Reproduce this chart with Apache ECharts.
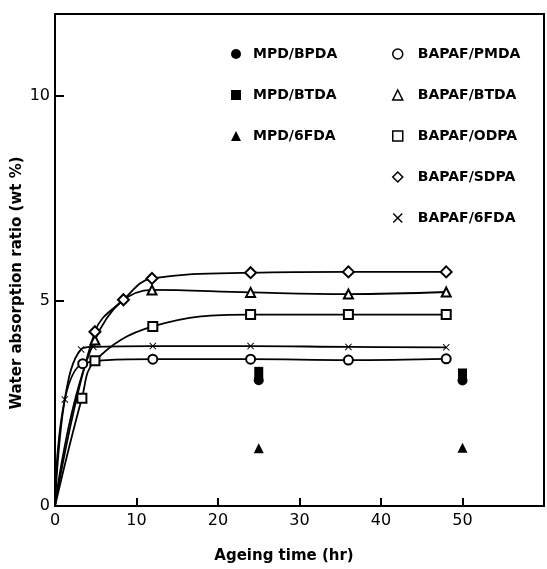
<!DOCTYPE html>
<html>
<head>
<meta charset="utf-8">
<script src="https://cdn.jsdelivr.net/npm/echarts@6/dist/echarts.min.js"></script>
<style>
  html, body { margin: 0; padding: 0; background: #fff; }
  #main { width: 547px; height: 569px; }
</style>
</head>
<body>
<div id="main"></div>
<script>
// BAPAF series (curves start at the origin)
const pmdaX = [0, 3.4, 12, 24, 36, 48]
const pmdaY = [0, 3.47, 3.58, 3.58, 3.56, 3.59]
const btdaX = [0, 4.9, 11.9, 24, 36, 48]
const btdaY = [0, 4.05, 5.27, 5.21, 5.17, 5.22]
const odpaX = [0, 3.3, 4.9, 12, 24, 36, 48]
const odpaY = [0, 2.63, 3.54, 4.38, 4.67, 4.67, 4.67]
const sdpaX = [0, 4.9, 8.4, 11.9, 24, 36, 48]
const sdpaY = [0, 4.25, 5.03, 5.55, 5.69, 5.71, 5.71]
const fdaX = [0, 1.2, 3.2, 4.7, 12, 24, 36, 48]
const fdaY = [0, 2.6, 3.82, 3.88, 3.9, 3.9, 3.88, 3.87]

// MPD series (single points)
const mpdX = [25, 50]
const mpdBpdaY = [3.07, 3.06]
const mpdBtdaY = [3.26, 3.22]
const mpd6fdaY = [1.41, 1.42]

const xTicks = [0, 10, 20, 30, 40, 50]
const yTicks = [0, 5, 10]

const FONT = 'DejaVu Sans'
const crossPath = 'path://M0,1L1,0L5,4L9,0L10,1L6,5L10,9L9,10L5,6L1,10L0,9L4,5Z'

function curve(xs, ys) {
  return xs.map(function (x, i) {
    if (i === 0) return { value: [x, ys[i]], symbol: 'none' }
    return [x, ys[i]]
  })
}
function points(xs, ys) {
  return xs.map(function (x, i) { return [x, ys[i]] })
}

const chart = echarts.init(document.getElementById('main'))

const lineBase = {
  type: 'line',
  smooth: 0.4,
  lineStyle: { color: '#000', width: 1.8 },
  itemStyle: { color: '#000', borderWidth: 1.6 },
  z: 2,
}

const option = {
  backgroundColor: '#fff',
  animation: false,
  grid: {
    left: 55,
    top: 14,
    width: 494,
    bottom: 63,
    show: true,
    borderColor: '#000',
    borderWidth: 2,
    backgroundColor: 'transparent',
  },
  xAxis: {
    type: 'value',
    min: 0,
    max: 60,
    interval: 10,
    axisLine: { lineStyle: { color: '#000', width: 2 } },
    axisTick: { inside: true, length: 8, lineStyle: { color: '#000', width: 2 } },
    splitLine: { show: false },
    axisLabel: {
      color: '#000',
      fontFamily: FONT,
      fontSize: 16,
      margin: 7,
      formatter: function (v) { return xTicks.indexOf(v) >= 0 ? String(v) : '' },
    },
  },
  yAxis: {
    type: 'value',
    min: 0,
    max: 12,
    interval: 5,
    axisLine: { lineStyle: { color: '#000', width: 2 } },
    axisTick: { inside: true, length: 9, lineStyle: { color: '#000', width: 2 } },
    splitLine: { show: false },
    axisLabel: {
      color: '#000',
      fontFamily: FONT,
      fontSize: 16,
      margin: 5,
      formatter: function (v) { return yTicks.indexOf(v) >= 0 ? String(v) : '' },
    },
  },
  legend: [
    {
      orient: 'vertical',
      left: 226,
      top: 42,
      itemGap: 27,
      itemWidth: 10,
      itemHeight: 10,
      selectedMode: false,
      textStyle: { color: '#000', fontFamily: FONT, fontWeight: 'bold', fontSize: 14, padding: [0, 0, 0, 7] },
      data: [
        { name: 'MPD/BPDA', icon: 'circle', itemStyle: { color: '#000', opacity: 1 } },
        { name: 'MPD/BTDA', icon: 'rect', itemStyle: { color: '#000', opacity: 1 } },
        { name: 'MPD/6FDA', icon: 'triangle', itemStyle: { color: '#000', opacity: 1 } },
      ],
    },
    {
      orient: 'vertical',
      left: 387,
      top: 42,
      itemGap: 27,
      itemWidth: 10,
      itemHeight: 10,
      selectedMode: false,
      textStyle: { color: '#000', fontFamily: FONT, fontWeight: 'bold', fontSize: 14, padding: [0, 0, 0, 10] },
      data: [
        { name: 'BAPAF/PMDA', icon: 'circle', itemStyle: { color: '#fff', borderColor: '#000', borderWidth: 1.5 } },
        { name: 'BAPAF/BTDA', icon: 'triangle', itemStyle: { color: '#fff', borderColor: '#000', borderWidth: 1.5 } },
        { name: 'BAPAF/ODPA', icon: 'rect', itemStyle: { color: '#fff', borderColor: '#000', borderWidth: 1.5 } },
        { name: 'BAPAF/SDPA', icon: 'diamond', itemStyle: { color: '#fff', borderColor: '#000', borderWidth: 1.5 } },
        { name: 'BAPAF/6FDA', icon: crossPath, itemStyle: { color: '#000', borderWidth: 0 }, itemWidth: 8, itemHeight: 8 },
      ],
    },
  ],
  graphic: [
    {
      type: 'text',
      x: 284,
      y: 556,
      style: { text: 'Ageing time (hr)', font: 'bold 15px "DejaVu Sans"', fill: '#000', align: 'center', verticalAlign: 'middle' },
    },
    {
      type: 'text',
      x: 17,
      y: 283,
      rotation: Math.PI / 2,
      style: { text: 'Water absorption ratio (wt %)', font: 'bold 15px "DejaVu Sans"', fill: '#000', align: 'center', verticalAlign: 'middle' },
    },
  ],
  series: [
    Object.assign({}, lineBase, { name: 'BAPAF/PMDA', symbol: 'emptyCircle', symbolSize: 9, data: curve(pmdaX, pmdaY) }),
    Object.assign({}, lineBase, { name: 'BAPAF/BTDA', symbol: 'emptyTriangle', symbolSize: 9, data: curve(btdaX, btdaY) }),
    Object.assign({}, lineBase, { name: 'BAPAF/ODPA', symbol: 'emptyRect', symbolSize: 9, data: curve(odpaX, odpaY) }),
    Object.assign({}, lineBase, { name: 'BAPAF/SDPA', symbol: 'emptyDiamond', symbolSize: 11, data: curve(sdpaX, sdpaY) }),
    Object.assign({}, lineBase, {
      name: 'BAPAF/6FDA',
      symbol: crossPath,
      symbolSize: 7,
      itemStyle: { color: '#000', borderWidth: 0 },
      data: curve(fdaX, fdaY),
    }),
    { name: 'MPD/BPDA', type: 'scatter', symbol: 'circle', symbolSize: 10, itemStyle: { color: '#000', opacity: 1 }, data: points(mpdX, mpdBpdaY) },
    { name: 'MPD/BTDA', type: 'scatter', symbol: 'rect', symbolSize: [9, 11], itemStyle: { color: '#000', opacity: 1 }, data: points(mpdX, mpdBtdaY) },
    { name: 'MPD/6FDA', type: 'scatter', symbol: 'triangle', symbolSize: 10, itemStyle: { color: '#000', opacity: 1 }, data: points(mpdX, mpd6fdaY) },
  ],
}

chart.setOption(option)
</script>
</body>
</html>
